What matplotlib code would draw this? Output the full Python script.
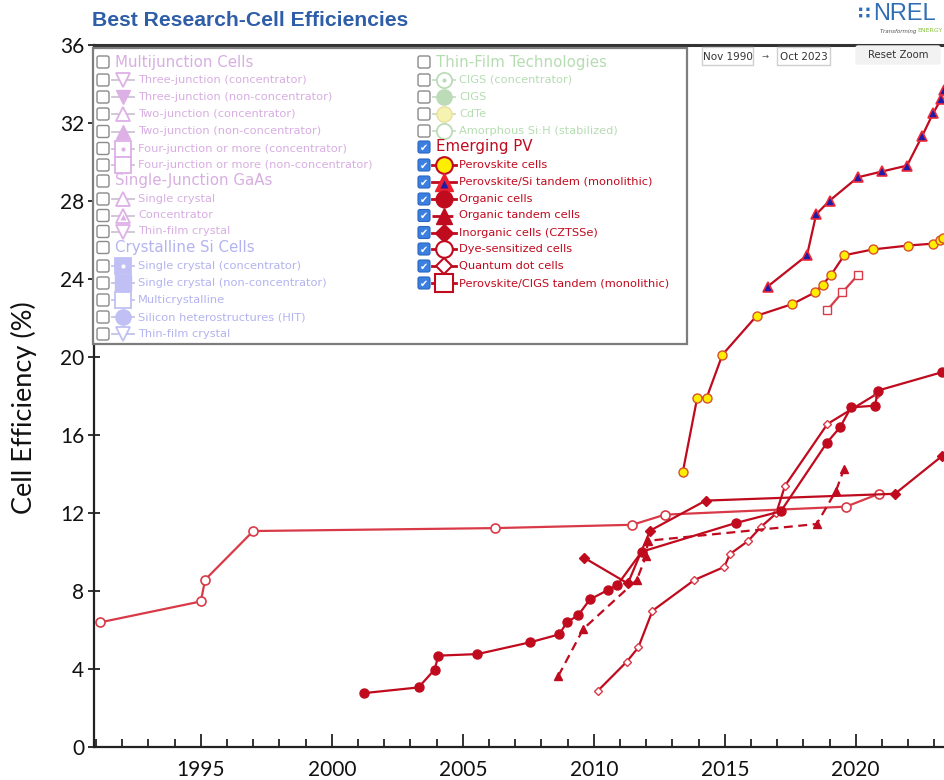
import matplotlib
matplotlib.use("Agg")
import matplotlib.pyplot as plt
from matplotlib.patches import Rectangle, FancyBboxPatch
from matplotlib.ticker import MultipleLocator

# ---------------- data ----------------
perov_years = [2013.40, 2013.95, 2014.31, 2014.91, 2016.22, 2017.58, 2018.45, 2018.74,
               2019.06, 2019.56, 2020.65, 2022.00, 2022.96, 2023.23, 2023.35]
perov_eff = [14.1, 17.9, 17.9, 20.1, 22.1, 22.7, 23.3, 23.7, 24.2, 25.2, 25.5, 25.7, 25.8, 26.0, 26.1]

psi_years = [2016.64, 2018.14, 2018.49, 2019.00, 2020.08, 2021.01, 2021.96, 2022.53,
             2022.96, 2023.26, 2023.37]
psi_eff = [23.6, 25.2, 27.3, 28.0, 29.2, 29.5, 29.8, 31.3, 32.5, 33.2, 33.7]

pcigs_years = [2018.92, 2019.49, 2020.09]
pcigs_eff = [22.4, 23.3, 24.2]

organic_years = [2001.24, 2003.31, 2003.92, 2004.07, 2005.56, 2007.56, 2008.68, 2008.97,
                 2009.41, 2009.85, 2010.56, 2010.90, 2011.83, 2015.42, 2017.14, 2018.90,
                 2019.40, 2019.82, 2020.74, 2020.84, 2023.28]
organic_eff = [2.75, 3.04, 3.95, 4.67, 4.75, 5.35, 5.76, 6.37, 6.75, 7.55, 8.05, 8.29,
               10.0, 11.47, 12.07, 15.59, 16.38, 17.40, 17.49, 18.26, 19.20]

otandem_years = [2008.65, 2009.60, 2011.64, 2012.00, 2012.06, 2018.51, 2019.25, 2019.55]
otandem_eff = [3.64, 6.04, 8.55, 9.79, 10.56, 11.42, 13.13, 14.24]

czts_years = [2009.63, 2011.30, 2012.15, 2014.27, 2021.50, 2023.28]
czts_eff = [9.69, 8.37, 11.08, 12.62, 12.97, 14.89]

dye_years = [1991.13, 1995.00, 1995.16, 1997.00, 2006.23, 2011.47, 2012.72, 2019.63, 2020.89]
dye_eff = [6.37, 7.45, 8.56, 11.06, 11.21, 11.38, 11.90, 12.31, 12.97]

qd_years = [2010.15, 2011.26, 2011.70, 2012.24, 2013.84, 2014.98, 2015.20, 2015.89,
            2016.39, 2016.96, 2017.30, 2018.92, 2020.80]
qd_eff = [2.86, 4.36, 5.09, 6.97, 8.55, 9.22, 9.88, 10.55, 11.28, 11.96, 13.38, 16.55, 18.09]

x_major = [1995, 2000, 2005, 2010, 2015, 2020]
y_major = [0, 4, 8, 12, 16, 20, 24, 28, 32, 36]

left_items = [
    ("h", "Multijunction Cells", "mj"),
    ("i", "Three-junction (concentrator)", "mj_v_open"),
    ("i", "Three-junction (non-concentrator)", "mj_v_fill"),
    ("i", "Two-junction (concentrator)", "mj_t_open"),
    ("i", "Two-junction (non-concentrator)", "mj_t_fill"),
    ("i", "Four-junction or more (concentrator)", "mj_s_dot"),
    ("i", "Four-junction or more (non-concentrator)", "mj_s_open"),
    ("h", "Single-Junction GaAs", "mj"),
    ("i", "Single crystal", "mj_t_open"),
    ("i", "Concentrator", "mj_t_in"),
    ("i", "Thin-film crystal", "mj_v_open"),
    ("h", "Crystalline Si Cells", "si"),
    ("i", "Single crystal (concentrator)", "si_s_dot"),
    ("i", "Single crystal (non-concentrator)", "si_s_fill"),
    ("i", "Multicrystalline", "si_s_open"),
    ("i", "Silicon heterostructures (HIT)", "si_o_fill"),
    ("i", "Thin-film crystal", "si_v_open"),
]
left_rows_y = [62, 80, 97, 114, 131.5, 148.5, 165, 181, 199, 215.5, 231.5, 247.5,
               266, 283, 300, 317, 334]

right_items = [
    ("h", "Thin-Film Technologies", "tf"),
    ("i", "CIGS (concentrator)", "tf_o_dot"),
    ("i", "CIGS", "tf_o_fill"),
    ("i", "CdTe", "tf_o_yellow"),
    ("i", "Amorphous Si:H (stabilized)", "tf_o_open"),
    ("h", "Emerging PV", "em"),
    ("i", "Perovskite cells", "perov"),
    ("i", "Perovskite/Si tandem (monolithic)", "psi"),
    ("i", "Organic cells", "organic"),
    ("i", "Organic tandem cells", "otandem"),
    ("i", "Inorganic cells (CZTSSe)", "czts"),
    ("i", "Dye-sensitized cells", "dye"),
    ("i", "Quantum dot cells", "qd"),
    ("i", "Perovskite/CIGS tandem (monolithic)", "pcigs"),
]
right_rows_y = [62, 80, 97, 114, 131, 147, 165, 182, 199, 215.5, 232.5, 249, 266, 283]

# ---------------- styles ----------------
RED = "#c00a1e"
LRED = "#d83a48"
YEL = "#ffee00"
BLUE = "#1c1ca8"
MJ_TXT = "#d8aee2"
SI_TXT = "#b3b3f0"
TF_TXT = "#b6dcb2"

fig = plt.figure(figsize=(9.44, 7.80), dpi=100)
W, H = 944, 780
x_left_px, x_right_px = 94, 944
y_bot_px, y_top_px = 746.7, 44.7
ax = fig.add_axes([x_left_px / W, 1 - y_bot_px / H, (x_right_px - x_left_px) / W,
                   (y_bot_px - y_top_px) / H])
ax.set_xlim(1990.92, 2023.37)
ax.set_ylim(0, 36)

lw = 1.6
ax.plot(dye_years, dye_eff, color=LRED, lw=lw, marker="o", ms=6.5, mfc="white",
        mec=LRED, mew=1.2, zorder=3)
ax.plot(qd_years, qd_eff, color=RED, lw=lw, marker="D", ms=4.2, mfc="white",
        mec=LRED, mew=1.0, zorder=4)
ax.plot(czts_years, czts_eff, color=RED, lw=lw, marker="D", ms=5, mfc=RED,
        mec=RED, zorder=4)
ax.plot(otandem_years, otandem_eff, color=RED, lw=lw, ls=(0, (4, 2.5)), marker="^", ms=6,
        mfc=RED, mec=RED, zorder=4)
ax.plot(organic_years, organic_eff, color=RED, lw=lw, marker="o", ms=6.5, mfc=RED,
        mec=RED, zorder=5)
ax.plot(pcigs_years, pcigs_eff, color=LRED, lw=lw, marker="s", ms=6, mfc="white",
        mec=LRED, mew=1.0, zorder=4)
ax.plot(perov_years, perov_eff, color=RED, lw=lw, marker="o", ms=6.5, mfc=YEL,
        mec="#d8502a", mew=1.0, zorder=5)
ax.plot(psi_years, psi_eff, color=RED, lw=lw, marker="^", ms=6.5, mfc=BLUE,
        mec="#ee2a3a", mew=1.2, zorder=5)

# axes styling
tick_font = dict(family="Lato", size=15)
ax.set_xticks(x_major)
ax.set_xticklabels([str(v) for v in x_major], fontdict=tick_font)
ax.xaxis.set_minor_locator(MultipleLocator(1))
ax.set_yticks(y_major)
ax.set_yticklabels([str(v) for v in y_major], fontdict=tick_font)
ax.tick_params(axis="x", which="major", direction="in", length=9.5, width=1.2, pad=9.5,
               colors="#111111")
ax.tick_params(axis="x", which="minor", direction="in", length=6, width=1.2,
               colors="#111111")
ax.tick_params(axis="y", which="major", direction="inout", length=8, width=1.2, pad=3,
               colors="#111111")
for s in ("left", "bottom"):
    ax.spines[s].set_linewidth(1.6)
    ax.spines[s].set_color("#222222")
ax.spines["top"].set_linewidth(2.2)
ax.spines["top"].set_color("#333333")
ax.spines["right"].set_visible(False)
ax.patch.set_alpha(0)

# y label
fig.text(24 / W, 1 - 408 / H, "Cell Efficiency (%)", rotation=90, ha="center",
         va="center", family="Lato", fontsize=19.5, color="#111111")

# title and logo
fig.text(92 / W, 1 - 20 / H, "Best Research-Cell Efficiencies", ha="left", va="center",
         family="Liberation Sans", fontweight="bold", fontsize=15.2, color="#2f5ea8")
fig.text(873 / W, 1 - 14 / H, "NREL", ha="left", va="center", family="Liberation Sans",
         fontsize=17, color="#2f6db5")
fig.text(858 / W, 1 - 14 / H, "\u2237", ha="left", va="center", family="DejaVu Sans",
         fontsize=13, color="#2f6db5", fontweight="bold")
fig.text(880 / W, 1 - 31 / H, "Transforming ", ha="left", va="center",
         family="DejaVu Sans", fontsize=4, color="#555555", style="italic")
fig.text(917 / W, 1 - 31 / H, "ENERGY", ha="left", va="center", family="DejaVu Sans",
         fontsize=4.5, color="#8cc63f")

# ---------------- overlay: legend and controls ----------------
ov = fig.add_axes([0, 0, 1, 1], zorder=10)
ov.set_xlim(0, W)
ov.set_ylim(H, 0)
ov.axis("off")
ov.patch.set_alpha(0)

ov.add_patch(Rectangle((93, 48), 594, 296, facecolor="white", edgecolor="#7d7d7d", lw=1.6))


def checkbox(x, y, checked):
    if checked:
        ov.add_patch(FancyBboxPatch((x, y - 6), 12, 12, boxstyle="round,pad=0,rounding_size=2",
                                    facecolor="#3b7fe0", edgecolor="#2a66c0", lw=0.8))
        ov.text(x + 6, y + 0.5, "\u2714", ha="center", va="center", color="white",
                family="DejaVu Sans", fontsize=7)
    else:
        ov.add_patch(FancyBboxPatch((x, y - 6), 12, 12, boxstyle="round,pad=0,rounding_size=2",
                                    facecolor="white", edgecolor="#8a8a8a", lw=1.0))


def icon(cx, y, kind):
    if kind.startswith("mj") or kind.startswith("si") or kind.startswith("tf"):
        fam = kind[:2]
        line_c = {"mj": "#cfc3d3", "si": "#c3c3e6", "tf": "#c6dcc6"}[fam]
        mk_c = {"mj": "#ddb0e6", "si": "#c0c0f4", "tf": "#bcdcb8"}[fam]
        shape = kind[3:]
        ov.plot([cx - 11, cx + 11], [y, y], color=line_c, lw=1.3)
        mk = {"v": "v", "t": "^", "s": "s", "o": "o"}[shape[0]]
        ms = 10 if mk in ("v", "^") else 11
        if shape.endswith("fill"):
            ov.plot(cx, y, marker=mk, ms=ms, mfc=mk_c, mec=mk_c, ls="none")
        elif shape.endswith("yellow"):
            ov.plot(cx, y, marker=mk, ms=ms, mfc="#f6f2b0", mec="#e8e0a0", ls="none")
        elif shape.endswith("dot"):
            fc = mk_c if fam == "si" else "white"
            ov.plot(cx, y, marker=mk, ms=ms, mfc=fc, mec=mk_c, mew=1.3, ls="none")
            ov.plot(cx, y, marker="o", ms=3, mfc="white" if fam == "si" else mk_c,
                    mec="none", ls="none")
        elif shape.endswith("in"):
            ov.plot(cx, y, marker=mk, ms=ms, mfc="white", mec=mk_c, mew=1.3, ls="none")
            ov.plot(cx, y + 1, marker=mk, ms=5, mfc=mk_c, mec="none", ls="none")
        else:
            ov.plot(cx, y, marker=mk, ms=ms, mfc="white", mec=mk_c, mew=1.3, ls="none")
        return
    ov.plot([cx - 12, cx + 12], [y, y], color=RED, lw=2,
            ls=(0, (3, 1.5)) if kind == "otandem" else "-")
    if kind == "perov":
        ov.plot(cx, y, marker="o", ms=12, mfc=YEL, mec=RED, mew=1.5, ls="none")
    elif kind == "psi":
        ov.plot(cx, y, marker="^", ms=13, mfc="#ee2030", mec="#ee2030", ls="none")
        ov.plot(cx, y + 1.5, marker="^", ms=6, mfc=BLUE, mec="none", ls="none")
    elif kind == "organic":
        ov.plot(cx, y, marker="o", ms=12, mfc=RED, mec=RED, ls="none")
    elif kind == "otandem":
        ov.plot(cx, y, marker="^", ms=12, mfc=RED, mec=RED, ls="none")
    elif kind == "czts":
        ov.plot(cx, y, marker="D", ms=9, mfc=RED, mec=RED, ls="none")
    elif kind == "dye":
        ov.plot(cx, y, marker="o", ms=12, mfc="white", mec=RED, mew=1.5, ls="none")
    elif kind == "qd":
        ov.plot(cx, y, marker="D", ms=8.5, mfc="white", mec=RED, mew=1.5, ls="none")
    elif kind == "pcigs":
        ov.plot(cx, y, marker="s", ms=13, mfc="white", mec=RED, mew=1.5, ls="none")


def draw_column(items, rows, cb_x, icon_x, text_x, head_x):
    for (kind, label, style), y in zip(items, rows):
        checked = style in ("em", "perov", "psi", "organic", "otandem", "czts", "dye",
                            "qd", "pcigs")
        checkbox(cb_x, y, checked)
        if kind == "h":
            col = {"mj": MJ_TXT, "si": SI_TXT, "tf": TF_TXT, "em": RED}[style]
            ov.text(head_x, y, label, ha="left", va="center", family="DejaVu Sans",
                    fontsize=10.8, color=col)
        else:
            icon(icon_x, y, style)
            if style.startswith("mj"):
                col = MJ_TXT
            elif style.startswith("si"):
                col = SI_TXT
            elif style.startswith("tf"):
                col = TF_TXT
            else:
                col = RED
            ov.text(text_x, y, label, ha="left", va="center", family="DejaVu Sans",
                    fontsize=8.2, color=col)


draw_column(left_items, left_rows_y, 97, 123, 138, 115)
draw_column(right_items, right_rows_y, 418, 444, 459, 436)

# date range controls
for x0, w, lab in [(702, 51, "Nov 1990"), (777, 53, "Oct 2023")]:
    ov.add_patch(Rectangle((x0, 47), w, 18, facecolor="white", edgecolor="#cfcfcf", lw=1))
    ov.text(x0 + w / 2, 56.5, lab, ha="center", va="center", family="DejaVu Sans",
            fontsize=7.5, color="#333333")
ov.text(765, 56, "\u2192", ha="center", va="center", family="DejaVu Sans", fontsize=6,
        color="#555555")
ov.add_patch(FancyBboxPatch((856, 46), 84, 18, boxstyle="round,pad=0,rounding_size=2",
                            facecolor="#f2f2f2", edgecolor="#f2f2f2", lw=1))
ov.text(898, 55.5, "Reset Zoom", ha="center", va="center", family="DejaVu Sans",
        fontsize=7.3, color="#333333")

fig.savefig("out.png", dpi=100)
